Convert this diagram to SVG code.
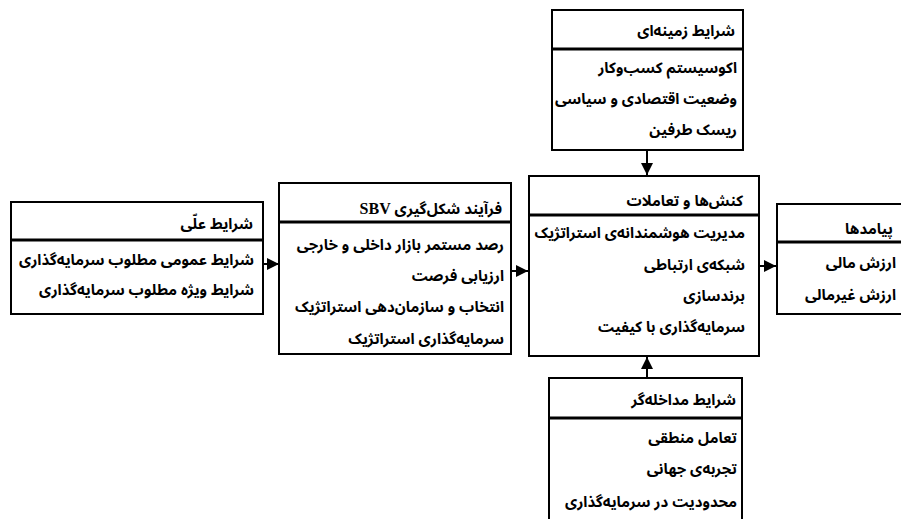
<svg xmlns="http://www.w3.org/2000/svg" width="901" height="519" viewBox="0 0 901 519">
<style>
.box{fill:#fff;stroke:#000;stroke-width:2}
.div{stroke:#000;stroke-width:3}
.t{font-family:"Noto Sans Arabic","DejaVu Sans",sans-serif;font-weight:bold;font-size:15px;fill:#000;direction:rtl;text-anchor:start}
.s{font-family:"Liberation Serif",serif;font-size:16px}
.c{stroke:#000;stroke-width:2;fill:none}
</style>
<defs>
<marker id="ah" viewBox="0 0 10 10" refX="10" refY="5" markerWidth="6" markerHeight="6" orient="auto" markerUnits="strokeWidth">
<path d="M0,0 L10,5 L0,10 Z" fill="#000"/>
</marker>
</defs>
<rect width="901" height="519" fill="#fff"/>
<g id="connectors">
<line class="c" x1="263" y1="264" x2="279" y2="264" marker-end="url(#ah)"/>
<line class="c" x1="511" y1="271" x2="528" y2="271" marker-end="url(#ah)"/>
<line class="c" x1="759" y1="266" x2="776" y2="266" marker-end="url(#ah)"/>
<line class="c" x1="647" y1="150" x2="647" y2="175" marker-end="url(#ah)"/>
<line class="c" x1="647" y1="378" x2="647" y2="357" marker-end="url(#ah)"/>
</g>
<g id="context">
<rect class="box" x="552" y="10" width="191" height="140"/>
<line class="div" x1="552" y1="49" x2="743" y2="49"/>
<text class="t" x="735" y="36">شرایط زمینه‌ای</text>
<text class="t" x="737" y="73">اکوسیستم کسب‌وکار</text>
<text class="t" x="737" y="104">وضعیت اقتصادی و سیاسی</text>
<text class="t" x="737" y="135">ریسک طرفین</text>
</g>
<g id="causal">
<rect class="box" x="11" y="202" width="252" height="112"/>
<line class="div" x1="11" y1="240" x2="263" y2="240"/>
<text class="t" x="253" y="229">شرایط علّی</text>
<text class="t" x="254" y="265">شرایط عمومی مطلوب سرمایه‌گذاری</text>
<text class="t" x="254" y="295">شرایط ویژه مطلوب سرمایه‌گذاری</text>
</g>
<g id="process">
<rect class="box" x="279" y="183" width="232" height="171"/>
<line class="div" x1="279" y1="222" x2="511" y2="222"/>
<text class="t" x="502" y="214">فرآیند شکل‌گیری <tspan class="s">SBV</tspan></text>
<text class="t" x="504" y="250">رصد مستمر بازار داخلی و خارجی</text>
<text class="t" x="504" y="281">ارزیابی فرصت</text>
<text class="t" x="504" y="312">انتخاب و سازمان‌دهی استراتژیک</text>
<text class="t" x="504" y="344">سرمایه‌گذاری استراتژیک</text>
</g>
<g id="actions">
<rect class="box" x="529" y="176" width="230" height="180"/>
<line class="div" x1="529" y1="215" x2="759" y2="215"/>
<text class="t" x="743" y="206">کنش‌ها و تعاملات</text>
<text class="t" x="745" y="238">مدیریت هوشمندانه‌ی استراتژیک</text>
<text class="t" x="745" y="270">شبکه‌ی ارتباطی</text>
<text class="t" x="745" y="301">برندسازی</text>
<text class="t" x="745" y="332">سرمایه‌گذاری با کیفیت</text>
</g>
<g id="outcomes">
<rect class="box" x="777" y="204" width="140" height="110"/>
<line class="div" x1="777" y1="242" x2="917" y2="242"/>
<text class="t" x="893" y="234">پیامدها</text>
<text class="t" x="896" y="268">ارزش مالی</text>
<text class="t" x="896" y="300">ارزش غیرمالی</text>
</g>
<g id="intervening">
<rect class="box" x="549" y="378" width="193" height="160"/>
<line class="div" x1="549" y1="418" x2="742" y2="418"/>
<text class="t" x="736" y="405">شرایط مداخله‌گر</text>
<text class="t" x="737" y="443">تعامل منطقی</text>
<text class="t" x="737" y="474">تجربه‌ی جهانی</text>
<text class="t" x="737" y="507">محدودیت در سرمایه‌گذاری</text>
</g>
</svg>
